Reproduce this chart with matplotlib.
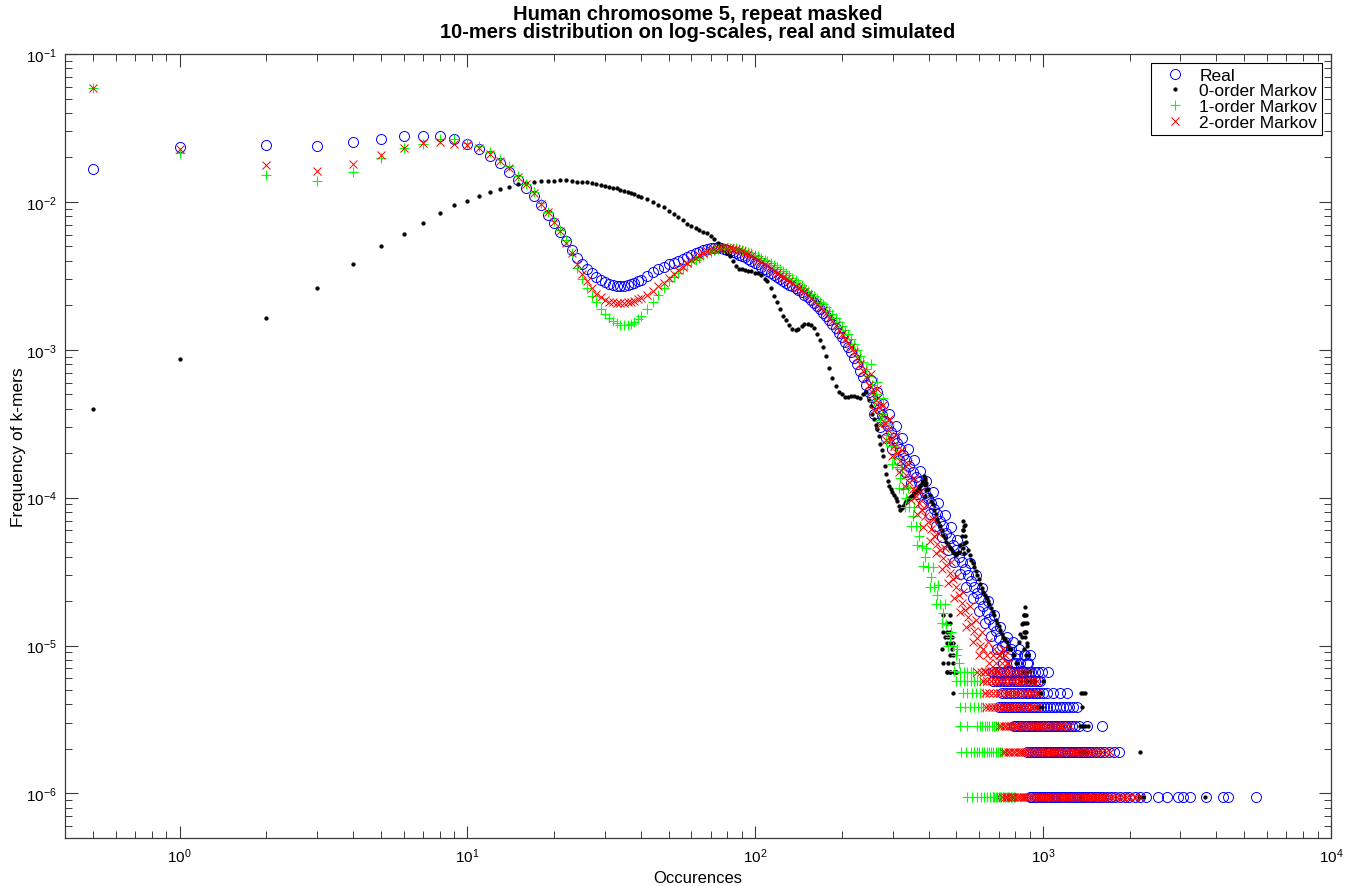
import numpy as np
import matplotlib
matplotlib.use("Agg")
import matplotlib.pyplot as plt
from matplotlib.ticker import LogLocator, NullFormatter, FixedLocator

nan = float("nan")
KMERS = 4 ** 10  # number of distinct 10-mers

# ---------------- occurrence grids (x values) ----------------
occ_low = [0.5, 1, 2, 3, 4, 5, 6, 7, 8, 9, 10, 11, 12, 13, 14, 15, 16, 17, 18, 19, 20, 21]
occ_dip = [22, 23, 24, 25, 26, 27, 28, 29, 30, 31, 32, 33, 34, 35, 36, 37, 38, 39, 40,
           42, 44, 46, 48, 50, 52, 54, 56, 58, 60, 62, 64, 66, 68, 70, 72, 74, 76, 78, 80]
occ_band = [82, 84, 86, 88, 90, 92, 94, 97, 100, 102,
            105, 108, 110, 113, 116, 119, 122, 125, 128, 131,
            134, 138, 141, 145, 148, 152, 156, 160, 164, 168,
            172, 176, 181, 185, 190, 195, 200, 205, 210, 215,
            220, 226, 231, 237, 243, 249, 255, 262, 268, 275,
            282, 289, 296, 303, 311, 319, 327, 335, 343, 352,
            361, 370, 379, 388, 398, 408, 418, 428, 439, 450,
            461, 473, 485, 497, 509, 522, 535, 548, 562, 576,
            590, 605, 620, 636, 651, 668, 684, 701, 719, 737,
            755, 774, 793, 813, 834, 855, 876, 898]
occ_mid = [252, 258, 265, 271, 278, 285, 292, 299, 307, 315,
           323, 331, 339, 347, 356, 365, 374, 383, 393, 403,
           413, 423, 433, 444, 455, 467, 479, 491, 503, 515,
           528, 541, 555, 569, 583, 597, 612, 628, 643, 659,
           676, 692, 710, 728, 746, 764, 783, 803, 823, 844, 865, 887]

# ---------------- Real ----------------
real_low = [0.0168, 0.0234, 0.0244, 0.0238, 0.0255, 0.0267, 0.0281, 0.0281, 0.0278, 0.0268, 0.0245,
            0.0227, 0.0203, 0.0183, 0.0160, 0.0141, 0.0124, 0.0110, 0.0095, 0.0081, 0.0072, 0.0063]
real_dip = [5.4e-3, 4.75e-3, 4.2e-3, 3.8e-3, 3.5e-3, 3.3e-3, 3.1e-3, 2.97e-3, 2.87e-3, 2.8e-3,
            2.75e-3, 2.72e-3, 2.71e-3, 2.72e-3, 2.75e-3, 2.79e-3, 2.85e-3, 2.92e-3, 2.98e-3,
            3.15e-3, 3.35e-3, 3.5e-3, 3.65e-3, 3.78e-3, 3.88e-3, 3.98e-3, 4.12e-3, 4.27e-3, 4.4e-3,
            4.5e-3, 4.6e-3, 4.7e-3, 4.78e-3, 4.85e-3, 4.9e-3, 4.92e-3, 4.88e-3, 4.82e-3, 4.75e-3]
real_band = [4.68e-3, 4.6e-3, 4.5e-3, 4.38e-3, 4.3e-3, 4.22e-3, 4.12e-3, 4.0e-3, 3.86e-3, 3.78e-3,
             3.64e-3, 3.5e-3, 3.42e-3, 3.3e-3, 3.2e-3, 3.1e-3, 3.0e-3, 2.92e-3, 2.84e-3, 2.76e-3,
             2.7e-3, 2.6e-3, 2.53e-3, 2.44e-3, 2.36e-3, 2.28e-3, 2.18e-3, 2.08e-3, 1.98e-3, 1.88e-3,
             1.78e-3, 1.68e-3, 1.58e-3, 1.5e-3, 1.41e-3, 1.3e-3, 1.22e-3, 1.13e-3, 1.05e-3, 9.6e-4,
             8.8e-4, 8.0e-4, 7.2e-4, 6.5e-4, 5.8e-4, 5.2e-4, 4.8e-4, 4.4e-4, 4.0e-4, 3.6e-4,
             3.3e-4, 3.05e-4, 2.8e-4, 2.55e-4, 2.35e-4, 2.15e-4, 1.95e-4, 1.8e-4, 1.65e-4, 1.5e-4,
             1.38e-4, 1.27e-4, 1.17e-4, 1.08e-4, 1.0e-4, 9.2e-5, 8.4e-5, 7.7e-5, 7.0e-5, 6.4e-5,
             5.8e-5, 5.3e-5, 4.8e-5, 4.4e-5, 4.0e-5, 3.65e-5, 3.3e-5, 3.0e-5, 2.75e-5, 2.5e-5,
             2.25e-5, 2.05e-5, 1.85e-5, 1.68e-5, 1.52e-5, 1.38e-5, 1.25e-5, 1.12e-5, 1.0e-5, 1.05e-5,
             8.6e-6, 9.5e-6, 7.6e-6, 8.6e-6, 7.6e-6, 8.6e-6, 7.6e-6, 8.6e-6]
real_mid = [6.2e-4, 3.7e-4, 5.2e-4, 3.0e-4, 4.3e-4, 2.55e-4, 3.7e-4, 2.15e-4, 3.05e-4, 1.8e-4,
            2.55e-4, 1.5e-4, 2.15e-4, 1.26e-4, 1.8e-4, 1.06e-4, 1.52e-4, 9.0e-5, 1.3e-4, 7.7e-5,
            1.1e-4, 6.4e-5, 9.2e-5, 5.4e-5, 7.6e-5, 4.4e-5, 6.3e-5, 3.7e-5, 5.2e-5, 3.05e-5,
            4.4e-5, 2.5e-5, 3.6e-5, 2.1e-5, 3.0e-5, 1.72e-5, 2.45e-5, 1.42e-5, 2.0e-5, 1.16e-5,
            1.62e-5, 9.5e-6, 1.33e-5, 7.6e-6, 1.14e-5, 6.7e-6, 1.05e-5, 7.6e-6, 9.5e-6, 6.7e-6,
            8.6e-6, 7.6e-6]
real_rows = {
    1: [900, 918, 936, 954, 972, 990, 1010, 1030, 1050, 1070, 1090, 1110, 1130, 1150, 1172, 1194,
        1216, 1238, 1260, 1285, 1310, 1335, 1360, 1385, 1410, 1440, 1470, 1500, 1540, 1580, 1620,
        1670, 1720, 1780, 1850, 1920, 1990, 2080, 2170, 2270, 2500, 2700, 2930, 3050, 3250, 3670,
        4200, 4370, 5470],
    2: [880, 900, 920, 940, 960, 980, 1000, 1020, 1040, 1060, 1080, 1100, 1122, 1144, 1166, 1188,
        1210, 1235, 1260, 1285, 1310, 1335, 1360, 1390, 1420, 1450, 1480, 1530, 1580, 1630, 1700,
        1760, 1830],
    3: [790, 808, 826, 844, 862, 880, 898, 916, 934, 952, 970, 990, 1010, 1030, 1050, 1070, 1090,
        1110, 1130, 1155, 1180, 1205, 1230, 1260, 1290, 1330, 1420, 1600],
    4: [700, 718, 736, 754, 772, 790, 808, 826, 844, 862, 880, 900, 920, 940, 960, 980, 1005, 1030,
        1055, 1080, 1110, 1140, 1170, 1200, 1230, 1270, 1310],
    5: [720, 745, 770, 795, 820, 845, 870, 895, 920, 945, 970, 1000, 1030, 1080, 1140, 1210],
    6: [670, 690, 710, 730, 750, 770, 790, 810, 830, 850, 870, 890, 910, 935, 960, 975],
    7: [670, 690, 710, 730, 750, 770, 790, 810, 830, 850, 870, 890, 910, 935, 960, 990, 1040],
}

# ---------------- 0-order Markov ----------------
m0_low = [4.0e-4, 8.7e-4, 1.65e-3, 2.6e-3, 3.8e-3, 5.0e-3, 6.1e-3, 7.15e-3, 8.45e-3, 9.5e-3, 0.0101,
          0.0109, 0.0116, 0.0122, 0.0127, 0.0133, 0.0134, 0.0137, 0.0138, 0.0139, 0.0139, 0.0140]
m0_dip = [0.0140, 0.0139, 0.0137, 0.0137, 0.0136, 0.0135, 0.0133, 0.0131, 0.0129, 0.0127,
          0.0125, 0.0124, 0.0121, 0.0119, 0.0117, 0.0115, 0.0113, 0.0110, 0.0108,
          0.0104, 0.0100, 0.0096, 0.0092, 0.0087, 0.0083, 0.0079, 0.0075, 0.0071, 0.0069,
          0.0067, 0.0065, 0.0063, 0.0062, 0.0059, 0.0056, 0.0053, 0.0050, 0.0047, 0.0045]
m0_band = [4.3e-3, 4.0e-3, 3.7e-3, 3.5e-3, 3.5e-3, 3.45e-3, 3.4e-3, 3.4e-3, 3.3e-3, 3.3e-3,
           3.2e-3, 3.0e-3, 2.9e-3, 2.6e-3, 2.3e-3, 2.1e-3, 1.9e-3, 1.7e-3, 1.58e-3, 1.48e-3,
           1.38e-3, 1.36e-3, 1.39e-3, 1.45e-3, 1.5e-3, 1.49e-3, 1.47e-3, 1.4e-3, 1.28e-3, 1.17e-3,
           1.04e-3, 9.1e-4, 7.5e-4, 6.4e-4, 5.7e-4, 5.2e-4, 5.0e-4, 4.8e-4, 4.8e-4, 4.9e-4,
           4.9e-4, 4.8e-4, 4.7e-4, 5.0e-4, 5.2e-4, 4.6e-4, 3.7e-4, 3.1e-4, 2.6e-4, 2.1e-4,
           1.65e-4, 1.3e-4, 1.15e-4, 1.05e-4, 9.5e-5, 8.2e-5, 8.8e-5, 9.5e-5, 1.0e-4, 1.05e-4,
           1.1e-4, 1.15e-4, 1.25e-4, 1.35e-4, 1.15e-4, 9.5e-5, 8.2e-5, 7.2e-5, 6.4e-5, 5.6e-5,
           5.0e-5, 4.6e-5, 4.3e-5, 4.1e-5, 4.3e-5, 5.5e-5, 6.5e-5, 4.4e-5, 3.8e-5, 3.4e-5,
           3.0e-5, 2.6e-5, 2.3e-5, 2.1e-5, 1.9e-5, 1.7e-5, 1.5e-5, 1.35e-5, 1.2e-5, 1.1e-5,
           1.0e-5, 9.5e-6, 8.6e-6, 7.6e-6, 1.2e-5, 1.6e-5, 1.0e-5, 6.7e-6]
m0_mid = [4.2e-4, 3.4e-4, 2.9e-4, 2.3e-4, 1.9e-4, 1.45e-4, 1.2e-4, 1.1e-4, 1.0e-4, 8.8e-5,
          8.5e-5, 9.2e-5, 9.8e-5, 1.02e-4, 1.08e-4, 1.12e-4, 1.2e-4, 1.3e-4, 1.25e-4, 1.05e-4,
          9.0e-5, 7.8e-5, 6.8e-5, 6.0e-5, 5.3e-5, 4.8e-5, 4.5e-5, 4.2e-5, 4.2e-5, 4.8e-5,
          6.0e-5, 5.0e-5, 4.1e-5, 3.6e-5, 3.2e-5, 2.8e-5, 2.45e-5, 2.2e-5, 2.0e-5, 1.8e-5,
          1.6e-5, 1.42e-5, 1.28e-5, 1.14e-5, 1.05e-5, 9.5e-6, 8.6e-6, 7.6e-6, 1.05e-5, 1.4e-5,
          1.24e-5, 8.6e-6]
m0_rows = {
    1: [700, 1350, 2150, 2230, 3650],
    2: [1330, 1360, 1390, 1420, 2170],
    3: [1340, 1370, 1400, 1430],
    4: [960, 990, 1360],
    5: [485, 960, 985, 1350, 1375, 1400],
    6: [840, 870, 900, 930, 1000],
    7: [465, 475, 490, 500, 850, 880],
}
m0_extra_x = [462, 475, 500, 450, 468, 487, 475, 487, 445, 481, 462, 475, 487, 456, 468, 481,
              450, 462, 475, 462, 475, 450, 475,
              865, 858, 872, 850, 865, 880, 858, 872, 845, 865, 880, 855, 870,
              528, 532, 526, 534, 530, 528, 533,
              386, 390, 388, 392, 388]
m0_extra_count = [7, 7, 7, 8, 8, 8, 9, 9, 10, 10, 11, 11, 11, 12, 12, 12, 13, 13, 13, 15, 15, 17, 17,
                  19, 17, 17, 15, 15, 15, 13, 13, 12, 12, 11, 10, 9,
                  73, 68, 63, 58, 52, 48, 44,
                  148, 138, 128, 118, 108]

# ---------------- 1-order Markov ----------------
m1_low = [0.059, 0.0213, 0.0151, 0.0138, 0.0159, 0.0199, 0.0230, 0.0246, 0.0267, 0.0268, 0.0250,
          0.0238, 0.0217, 0.0194, 0.0176, 0.0149, 0.0133, 0.0116, 0.0099, 0.0086, 0.0074, 0.0065]
m1_dip = [5.5e-3, 4.5e-3, 3.6e-3, 3.0e-3, 2.6e-3, 2.3e-3, 2.1e-3, 1.9e-3, 1.75e-3, 1.65e-3,
          1.57e-3, 1.51e-3, 1.48e-3, 1.47e-3, 1.48e-3, 1.5e-3, 1.55e-3, 1.62e-3, 1.7e-3,
          1.88e-3, 2.1e-3, 2.35e-3, 2.6e-3, 2.9e-3, 3.1e-3, 3.3e-3, 3.52e-3, 3.72e-3, 3.9e-3,
          4.05e-3, 4.2e-3, 4.35e-3, 4.48e-3, 4.6e-3, 4.7e-3, 4.78e-3, 4.84e-3, 4.88e-3, 4.9e-3]
m1_band = [4.9e-3, 4.88e-3, 4.85e-3, 4.8e-3, 4.75e-3, 4.68e-3, 4.6e-3, 4.5e-3, 4.38e-3, 4.3e-3,
           4.18e-3, 4.06e-3, 3.98e-3, 3.86e-3, 3.74e-3, 3.62e-3, 3.5e-3, 3.4e-3, 3.29e-3, 3.18e-3,
           3.08e-3, 2.95e-3, 2.85e-3, 2.73e-3, 2.63e-3, 2.51e-3, 2.4e-3, 2.3e-3, 2.21e-3, 2.12e-3,
           2.03e-3, 1.95e-3, 1.84e-3, 1.75e-3, 1.65e-3, 1.55e-3, 1.45e-3, 1.36e-3, 1.27e-3, 1.18e-3,
           1.09e-3, 1.0e-3, 9.1e-4, 8.3e-4, 7.4e-4, 6.6e-4, 5.8e-4, 5.0e-4, 4.4e-4, 3.7e-4,
           3.2e-4, 2.65e-4, 2.25e-4, 1.85e-4, 1.6e-4, 1.35e-4, 1.15e-4, 1.0e-4, 8.7e-5, 7.5e-5,
           6.4e-5, 5.5e-5, 4.7e-5, 4.0e-5, 3.4e-5, 2.9e-5, 2.5e-5, 2.2e-5, 1.9e-5, 1.65e-5,
           1.4e-5, 1.15e-5, 1.0e-5, 8.6e-6, 7.6e-6, nan, nan, nan, nan, nan,
           nan, nan, nan, nan, nan, nan, nan, nan, nan, nan,
           nan, nan, nan, nan, nan, nan, nan, nan]
m1_mid = [8.0e-4, 4.5e-4, 6.1e-4, 3.35e-4, 4.75e-4, 2.4e-4, 3.1e-4, 1.7e-4, 2.2e-4, 1.16e-4,
          1.56e-4, 8.6e-5, 1.16e-4, 6.4e-5, 8.6e-5, 4.8e-5, 6.4e-5, 3.45e-5, 4.6e-5, 2.5e-5,
          3.4e-5, 1.9e-5, 2.55e-5, 1.43e-5, 1.9e-5, 1.0e-5, 1.24e-5, 6.7e-6, 9.5e-6, nan,
          nan, nan, nan, nan, nan, nan, nan, nan, nan, nan,
          nan, nan, nan, nan, nan, nan, nan, nan, nan, nan, nan, nan]
m1_rows = {
    1: [543, 565, 590, 610, 625, 640, 655, 668, 676, 684, 692, 700, 708, 716, 724, 732, 740, 748,
        756, 764, 772, 780, 790, 800],
    2: [520, 540, 560, 575, 588, 600, 612, 624, 636, 648, 660, 672, 684, 696, 708, 720],
    3: [515, 545, 590, 602, 614, 626, 638, 650, 662, 674, 686, 698],
    4: [515, 535, 555, 575, 595, 610, 620],
    5: [525, 545, 565, 585, 605, 620],
    6: [500, 515, 530, 545, 560, 575, 590, 605, 620],
    7: [515, 530, 545, 560, 570],
}

# ---------------- 2-order Markov ----------------
m2_low = [0.059, 0.0227, 0.0177, 0.0161, 0.0179, 0.0206, 0.0233, 0.0252, 0.0256, 0.0248, 0.0241,
          0.0233, 0.0210, 0.0190, 0.0170, 0.0147, 0.0132, 0.0114, 0.0097, 0.0085, 0.0073, 0.0064]
m2_dip = [5.3e-3, 4.5e-3, 3.8e-3, 3.25e-3, 2.9e-3, 2.6e-3, 2.4e-3, 2.26e-3, 2.17e-3, 2.12e-3,
          2.09e-3, 2.07e-3, 2.07e-3, 2.08e-3, 2.1e-3, 2.12e-3, 2.15e-3, 2.2e-3, 2.25e-3,
          2.35e-3, 2.5e-3, 2.68e-3, 2.85e-3, 3.05e-3, 3.25e-3, 3.45e-3, 3.65e-3, 3.85e-3, 4.05e-3,
          4.2e-3, 4.38e-3, 4.5e-3, 4.62e-3, 4.72e-3, 4.8e-3, 4.86e-3, 4.9e-3, 4.92e-3, 4.9e-3]
m2_band = [4.88e-3, 4.84e-3, 4.78e-3, 4.7e-3, 4.62e-3, 4.53e-3, 4.44e-3, 4.3e-3, 4.16e-3, 4.06e-3,
           3.92e-3, 3.78e-3, 3.69e-3, 3.56e-3, 3.43e-3, 3.31e-3, 3.2e-3, 3.1e-3, 3.0e-3, 2.9e-3,
           2.81e-3, 2.7e-3, 2.62e-3, 2.52e-3, 2.44e-3, 2.34e-3, 2.24e-3, 2.14e-3, 2.04e-3, 1.95e-3,
           1.85e-3, 1.76e-3, 1.65e-3, 1.56e-3, 1.46e-3, 1.36e-3, 1.27e-3, 1.19e-3, 1.11e-3, 1.04e-3,
           9.6e-4, 8.8e-4, 8.0e-4, 7.2e-4, 6.5e-4, 5.8e-4, 5.2e-4, 4.6e-4, 4.1e-4, 3.6e-4,
           3.2e-4, 2.85e-4, 2.5e-4, 2.25e-4, 2.0e-4, 1.78e-4, 1.58e-4, 1.42e-4, 1.27e-4, 1.14e-4,
           1.02e-4, 9.2e-5, 8.3e-5, 7.5e-5, 6.8e-5, 6.1e-5, 5.5e-5, 4.9e-5, 4.4e-5, 3.9e-5,
           3.5e-5, 3.1e-5, 2.8e-5, 2.5e-5, 2.2e-5, 1.95e-5, 1.75e-5, 1.55e-5, 1.4e-5, 1.25e-5,
           1.12e-5, 1.0e-5, 9.5e-6, 8.6e-6, 7.6e-6, 8.6e-6, 7.6e-6, 8.6e-6, 7.6e-6, 8.6e-6,
           7.6e-6, nan, nan, nan, nan, nan, nan, nan]
m2_mid = [6.9e-4, 3.9e-4, 5.4e-4, 3.1e-4, 4.25e-4, 2.45e-4, 3.4e-4, 1.9e-4, 2.65e-4, 1.5e-4,
          2.1e-4, 1.2e-4, 1.68e-4, 9.6e-5, 1.35e-4, 7.8e-5, 1.1e-4, 6.3e-5, 8.9e-5, 5.1e-5,
          7.2e-5, 4.2e-5, 5.8e-5, 3.3e-5, 4.6e-5, 2.65e-5, 3.7e-5, 2.1e-5, 2.95e-5, 1.68e-5,
          2.3e-5, 1.33e-5, 1.85e-5, 1.05e-5, 1.48e-5, 8.6e-6, 1.24e-5, 6.7e-6, 1.05e-5, 6.7e-6,
          9.5e-6, 6.7e-6, 8.6e-6, 9.5e-6, 7.6e-6, nan, nan, nan, nan, nan, nan, nan]
m2_rows = {
    1: [720, 735, 750, 765, 780, 795, 810, 822, 835, 848, 861, 874, 887, 900, 914, 928, 942, 956,
        970, 985, 1000, 1015, 1030, 1045, 1060, 1076, 1092, 1108, 1124, 1140, 1157, 1174, 1191,
        1208, 1226, 1244, 1262, 1281, 1300, 1320, 1340, 1360, 1380, 1400, 1422, 1444, 1466, 1488,
        1510, 1535, 1560, 1585, 1610, 1640, 1680, 1720, 1760, 1800, 1850, 1900, 1950, 2010, 2080,
        2170],
    2: [725, 740, 755, 770, 785, 800, 815, 830, 845, 860, 875, 890, 906, 922, 938, 954, 970, 987,
        1004, 1021, 1038, 1056, 1074, 1092, 1110, 1130, 1150, 1170, 1190, 1212, 1234, 1256, 1278,
        1300, 1325, 1350, 1375, 1400, 1430, 1460, 1490, 1520, 1560, 1600, 1650, 1710],
    3: [700, 715, 730, 745, 760, 775, 790, 805, 820, 835, 850, 865, 880, 896, 912, 928, 944, 960,
        977, 994, 1011, 1028, 1046, 1064, 1082, 1100, 1120, 1140, 1165, 1200, 1240],
    4: [635, 650, 665, 680, 695, 710, 725, 740, 755, 770, 785, 800, 815, 835, 855, 880, 905, 930, 950],
    5: [630, 650, 670, 690, 710, 730, 750, 770, 790, 810, 830, 855, 880, 905, 930, 950],
    6: [620, 640, 660, 680, 700, 720, 740, 760, 780, 800, 825, 850, 875, 900, 925, 950],
    7: [590, 610, 630, 650, 670, 690, 710, 730, 750, 770, 790, 815, 840, 865, 890],
}

labels = ["Real", "0-order Markov", "1-order Markov", "2-order Markov"]
title_lines = ["Human chromosome 5, repeat masked",
               "10-mers distribution on log-scales, real and simulated"]
x_label = "Occurences"
y_label = "Frequency of k-mers"


def assemble(low, dip, band, mid, rows, extra_x=(), extra_c=()):
    xs = list(occ_low) + list(occ_dip) + list(occ_band) + list(occ_mid)
    ys = list(low) + list(dip) + list(band) + list(mid)
    for c, xl in rows.items():
        xs += list(xl)
        ys += [c / KMERS] * len(xl)
    xs += list(extra_x)
    ys += [c / KMERS for c in extra_c]
    return np.array(xs, float), np.array(ys, float)


real_x, real_y = assemble(real_low, real_dip, real_band, real_mid, real_rows)
m0_x, m0_y = assemble(m0_low, m0_dip, m0_band, m0_mid, m0_rows, m0_extra_x, m0_extra_count)
m1_x, m1_y = assemble(m1_low, m1_dip, m1_band, m1_mid, m1_rows)
m2_x, m2_y = assemble(m2_low, m2_dip, m2_band, m2_mid, m2_rows)

# ---------------- style ----------------
plt.rcParams["font.family"] = ["Liberation Sans", "DejaVu Sans"]
plt.rcParams["mathtext.fontset"] = "custom"
plt.rcParams["mathtext.rm"] = "Liberation Sans"
plt.rcParams["mathtext.it"] = "Liberation Sans:italic"
plt.rcParams["mathtext.bf"] = "Liberation Sans:bold"
plt.rcParams["axes.unicode_minus"] = False

W, H = 1359, 887
fig = plt.figure(figsize=(W / 100, H / 100), dpi=100)
ax = fig.add_axes([65 / W, 1 - 839 / H, (1331 - 65) / W, (839 - 55) / H])

h_real, = ax.plot(real_x, real_y, ls="none", marker="o", ms=7.2, mfc="none", mec="#0000ff",
                  mew=0.7, label=labels[0], zorder=2)
h_m0, = ax.plot(m0_x, m0_y, ls="none", marker="o", ms=2.7, mfc="black", mec="black", mew=0.3,
                label=labels[1], zorder=3)
h_m1, = ax.plot(m1_x, m1_y, ls="none", marker="+", ms=7.5, mec="#00ff00", mew=0.8,
                label=labels[2], zorder=4)
h_m2, = ax.plot(m2_x, m2_y, ls="none", marker="x", ms=5.5, mec="#ff0000", mew=0.7,
                label=labels[3], zorder=5)

ax.set_xscale("log")
ax.set_yscale("log")
ax.set_xlim(0.4, 1e4)
ax.set_ylim(5e-7, 0.1)

ax.xaxis.set_major_locator(FixedLocator([1, 10, 100, 1000, 10000]))
ax.yaxis.set_major_locator(FixedLocator([1e-6, 1e-5, 1e-4, 1e-3, 1e-2, 1e-1]))
ax.xaxis.set_minor_locator(LogLocator(base=10, subs=np.arange(2, 10), numticks=20))
ax.yaxis.set_minor_locator(LogLocator(base=10, subs=np.arange(2, 10), numticks=20))
ax.xaxis.set_minor_formatter(NullFormatter())
ax.yaxis.set_minor_formatter(NullFormatter())

spine_c = "#3a3a3a"
for s in ax.spines.values():
    s.set_color(spine_c)
    s.set_linewidth(0.9)
ax.tick_params(which="both", direction="in", top=True, right=True, colors=spine_c,
               labelcolor="black", labelsize=11)
ax.tick_params(which="major", length=9, width=0.8, pad=6)
ax.tick_params(which="minor", length=5, width=0.7)

ax.set_xlabel(x_label, fontsize=12, labelpad=4)
ax.set_ylabel(y_label, fontsize=12.5, labelpad=0)
ax.set_title(title_lines[0] + "\n" + title_lines[1], fontsize=14.5, fontweight="bold", pad=12,
             linespacing=0.95)

leg = ax.legend(handles=[h_real, h_m0, h_m1, h_m2], loc="upper right", fontsize=12.5,
                frameon=True, fancybox=False, edgecolor="black", framealpha=1,
                handlelength=2.2, handletextpad=0.3, borderpad=0.28, labelspacing=0.03,
                borderaxespad=0.5)
leg.get_frame().set_linewidth(0.8)

fig.savefig("out.png", dpi=100, facecolor="white")
